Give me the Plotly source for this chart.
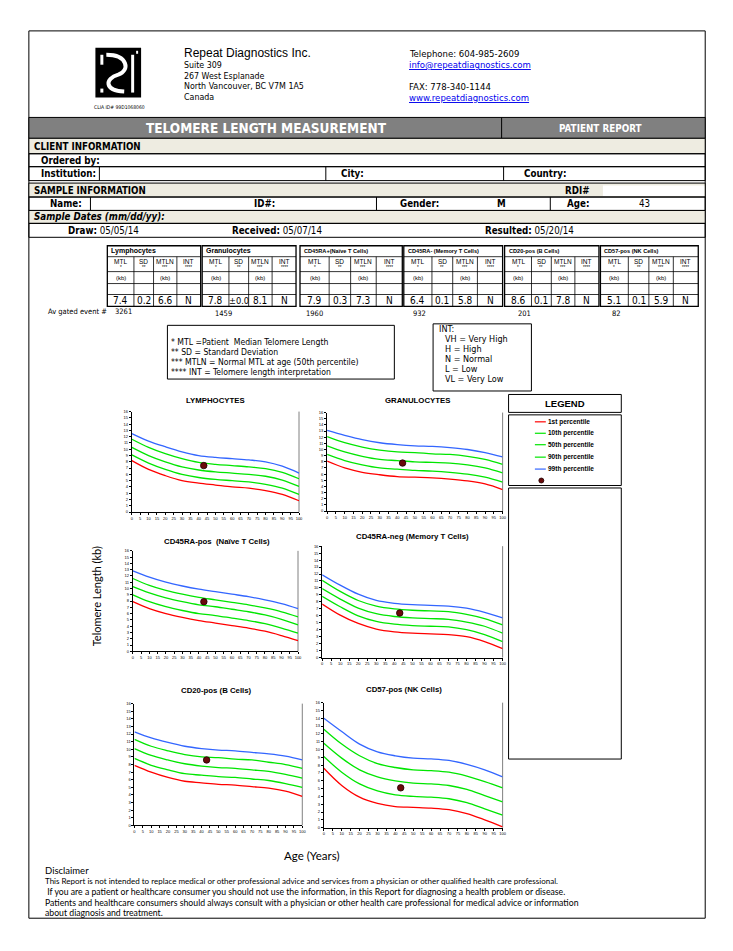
import plotly.graph_objects as go

W, H = 733, 951
OFF = 8  # default page body margin
COND = "DejaVu Sans Condensed, Liberation Sans Narrow, sans-serif"
ARIAL = "Liberation Sans, Arial, sans-serif"
CALI = "Lato, Carlito, Calibri, sans-serif"

# ---------------- data ----------------
ages = [0, 10, 20, 30, 40, 50, 60, 70, 80, 90, 100]
percentile_names = ["1st percentile", "10th percentile", "50th percentile", "90th percentile", "99th percentile"]

lymph_p1 = [8.2, 6.8, 5.8, 5.0, 4.6, 4.3, 4.0, 3.8, 3.4, 2.8, 1.8]
lymph_p10 = [9.1, 7.8, 6.8, 6.0, 5.5, 5.2, 5.0, 4.8, 4.4, 3.8, 2.8]
lymph_p50 = [10.3, 9.0, 8.0, 7.2, 6.7, 6.4, 6.2, 6.0, 5.7, 5.1, 4.1]
lymph_p90 = [11.6, 10.3, 9.3, 8.5, 7.9, 7.6, 7.4, 7.2, 6.9, 6.3, 5.3]
lymph_p99 = [12.5, 11.3, 10.4, 9.6, 9.0, 8.7, 8.5, 8.3, 8.0, 7.3, 6.2]

gran_p1 = [8.1, 7.0, 6.3, 5.9, 5.6, 5.5, 5.4, 5.2, 4.9, 4.4, 3.5]
gran_p10 = [9.2, 8.2, 7.5, 7.0, 6.8, 6.6, 6.5, 6.3, 6.0, 5.5, 4.7]
gran_p50 = [10.6, 9.6, 8.9, 8.4, 8.2, 8.0, 7.9, 7.8, 7.5, 7.0, 6.2]
gran_p90 = [12.1, 11.1, 10.4, 9.9, 9.6, 9.5, 9.3, 9.2, 8.9, 8.4, 7.6]
gran_p99 = [13.1, 12.3, 11.6, 11.1, 10.8, 10.6, 10.5, 10.3, 10.0, 9.5, 8.8]

naive_p1 = [7.9, 6.8, 6.0, 5.4, 4.9, 4.5, 4.1, 3.7, 3.2, 2.5, 1.7]
naive_p10 = [9.0, 7.9, 7.1, 6.5, 6.0, 5.7, 5.3, 4.9, 4.4, 3.7, 2.9]
naive_p50 = [10.3, 9.3, 8.5, 7.9, 7.4, 7.1, 6.7, 6.3, 5.8, 5.1, 4.2]
naive_p90 = [11.6, 10.5, 9.7, 9.1, 8.6, 8.2, 7.8, 7.4, 6.9, 6.3, 5.5]
naive_p99 = [12.8, 11.8, 11.0, 10.4, 9.9, 9.5, 9.1, 8.7, 8.2, 7.6, 6.8]

memory_p1 = [7.7, 6.1, 4.9, 4.1, 3.7, 3.5, 3.4, 3.3, 3.0, 2.3, 1.3]
memory_p10 = [8.8, 7.3, 6.0, 5.2, 4.8, 4.6, 4.5, 4.4, 4.0, 3.3, 2.3]
memory_p50 = [9.9, 8.4, 7.1, 6.3, 5.9, 5.7, 5.6, 5.5, 5.1, 4.5, 3.5]
memory_p90 = [11.1, 9.5, 8.2, 7.4, 7.0, 6.8, 6.7, 6.6, 6.2, 5.6, 4.7]
memory_p99 = [11.9, 10.4, 9.1, 8.2, 7.8, 7.6, 7.5, 7.4, 7.1, 6.5, 5.7]

bcell_p1 = [7.9, 7.0, 6.3, 5.8, 5.6, 5.4, 5.3, 5.1, 4.9, 4.5, 3.8]
bcell_p10 = [8.8, 7.9, 7.3, 6.8, 6.6, 6.4, 6.3, 6.1, 5.9, 5.5, 5.0]
bcell_p50 = [10.1, 9.2, 8.6, 8.1, 7.8, 7.6, 7.5, 7.3, 7.1, 6.7, 6.2]
bcell_p90 = [11.3, 10.4, 9.8, 9.3, 9.0, 8.9, 8.7, 8.6, 8.3, 8.0, 7.5]
bcell_p99 = [12.3, 11.5, 10.9, 10.4, 10.1, 9.9, 9.8, 9.6, 9.4, 9.1, 8.6]

nk_p1 = [7.6, 5.4, 3.9, 3.1, 2.7, 2.6, 2.5, 2.3, 1.8, 1.0, 0.1]
nk_p10 = [9.1, 7.1, 5.6, 4.7, 4.2, 4.0, 3.9, 3.7, 3.2, 2.4, 1.6]
nk_p50 = [10.8, 8.9, 7.4, 6.5, 6.0, 5.7, 5.6, 5.4, 4.9, 4.1, 3.3]
nk_p90 = [12.6, 10.7, 9.2, 8.2, 7.7, 7.4, 7.3, 7.1, 6.6, 5.9, 5.1]
nk_p99 = [14.0, 12.3, 10.7, 9.7, 9.2, 8.9, 8.8, 8.6, 8.1, 7.4, 6.5]

chart_titles = ["LYMPHOCYTES", "GRANULOCYTES", "CD45RA-pos  (Naïve T Cells)",
                "CD45RA-neg (Memory T Cells)", "CD20-pos (B Cells)", "CD57-pos (NK Cells)"]
table_titles = ["Lymphocytes", "Granulocytes", "CD45RA+(Naïve T Cells)",
                "CD45RA- (Memory T Cells)", "CD20-pos (B Cells)", "CD57-pos (NK Cells)"]
patient_age = 43
patient_mtl = [7.4, 7.8, 7.9, 6.4, 8.6, 5.1]
mtl_text = ["7.4", "7.8", "7.9", "6.4", "8.6", "5.1"]
sd_text = ["0.2", "±0.0", "0.3", "0.1", "0.1", "0.1"]
mtln_text = ["6.6", "8.1", "7.3", "5.8", "7.8", "5.9"]
int_text = ["N", "N", "N", "N", "N", "N"]
gated_events = ["3261", "1459", "1960", "932", "201", "82"]

curves = [
    [lymph_p1, lymph_p10, lymph_p50, lymph_p90, lymph_p99],
    [gran_p1, gran_p10, gran_p50, gran_p90, gran_p99],
    [naive_p1, naive_p10, naive_p50, naive_p90, naive_p99],
    [memory_p1, memory_p10, memory_p50, memory_p90, memory_p99],
    [bcell_p1, bcell_p10, bcell_p50, bcell_p90, bcell_p99],
    [nk_p1, nk_p10, nk_p50, nk_p90, nk_p99],
]
curve_colors = ["#FF0000", "#00E600", "#00E600", "#00E600", "#3366FF"]

# ---------------- layout helpers ----------------
shapes, annotations = [], []


def fx(x):
    return (x - OFF) / W


def fy(y):
    return 1 - (y - OFF) / H


def R(x0, y0, x1, y1, fill=None, lc="black", lw=1):
    shapes.append(dict(type="rect", xref="paper", yref="paper", x0=fx(x0), x1=fx(x1),
                       y0=fy(y0), y1=fy(y1), fillcolor=fill if fill else "rgba(0,0,0,0)",
                       line=dict(color=lc, width=lw), layer="below"))


def L(x0, y0, x1, y1, lw=1, color="black"):
    shapes.append(dict(type="line", xref="paper", yref="paper", x0=fx(x0), x1=fx(x1),
                       y0=fy(y0), y1=fy(y1), line=dict(color=color, width=lw), layer="below"))


def T(x, y, s, size=9, bold=False, italic=False, color="black", anchor="left", family=COND, angle=0):
    if italic:
        s = f"<i>{s}</i>"
    if bold:
        s = f"<b>{s}</b>"
    annotations.append(dict(x=fx(x), y=fy(y), xref="paper", yref="paper", text=s, showarrow=False,
                            xanchor=anchor, yanchor="middle", textangle=angle,
                            font=dict(size=size, color=color, family=family)))


BEIGE = "#EEECE1"
LEFT, RIGHT = 28, 709

# page frame
L(LEFT, 28, RIGHT, 28)
L(LEFT, 28, LEFT, 920)
L(RIGHT, 28, RIGHT, 920)
L(LEFT, 920, RIGHT, 920)

# logo
R(95, 45, 141, 95, fill="black", lc="black", lw=0)
shapes.append(dict(type="path", xref="paper", yref="paper",
                   path=f"M {fx(106)},{fy(52)} C {fx(128)},{fy(52)} {fx(130)},{fy(68)} {fx(118)},{fy(72)} "
                        f"C {fx(104)},{fy(76)} {fx(104)},{fy(88)} {fx(124)},{fy(89)}",
                   line=dict(color="white", width=4), layer="below"))
R(131, 52, 134, 90, fill="white", lc="white", lw=0)
R(100, 52, 103, 62, fill="white", lc="white", lw=0)
R(100, 86, 103, 90, fill="white", lc="white", lw=0)
R(136, 48, 138, 51, fill="white", lc="white", lw=0)
T(92, 105, "CLIA ID# 99D1068060", size=5, family=COND)

T(182, 50, "Repeat Diagnostics Inc.", size=12, family=ARIAL)
T(182, 62, "Suite 309", size=8.8, family=COND)
T(182, 73, "267 West Esplanade", size=8.8, family=COND)
T(182, 83.5, "North Vancouver, BC V7M 1A5", size=8.8, family=COND)
T(182, 94, "Canada", size=8.8, family=COND)
T(409, 50.5, "Telephone: 604-985-2609", size=9.5, family=COND)
T(409, 62, "<u>info@repeatdiagnostics.com</u>", size=9.5, color="#0000EE", family=COND)
T(409, 83.5, "FAX: 778-340-1144", size=9.5, family=COND)
T(409, 94.5, "<u>www.repeatdiagnostics.com</u>", size=9.5, color="#0000EE", family=COND)

# title bar
R(LEFT, 115, RIGHT, 136, fill="#808080", lc="black", lw=1)
L(504, 115, 504, 136)
T(267, 126, "TELOMERE LENGTH MEASUREMENT", size=13.5, bold=True, color="white", anchor="center")
T(604, 126, "PATIENT REPORT", size=9.8, bold=True, color="white", anchor="center")

# client information
R(LEFT, 136, RIGHT, 151.5, fill=BEIGE, lc="black", lw=1)
T(31, 144, "CLIENT INFORMATION", size=9.7, bold=True)
R(LEFT, 151.5, RIGHT, 164.5, lw=1)
T(38, 158, "Ordered by:", size=9.7, bold=True)
R(LEFT, 164.5, RIGHT, 178.5, lw=1)
L(99, 164.5, 99, 178.5)
L(327, 164.5, 327, 178.5)
L(506, 164.5, 506, 178.5)
T(38, 171.5, "Institution:", size=9.7, bold=True)
T(340, 171.5, "City:", size=9.7, bold=True)
T(525, 171.5, "Country:", size=9.7, bold=True)

# sample information
R(LEFT, 181, RIGHT, 195, fill=BEIGE, lc="black", lw=1)
R(606, 183.5, RIGHT - 1, 194, fill="white", lc="white", lw=0)
T(31, 188.5, "SAMPLE INFORMATION", size=9.7, bold=True)
T(566, 188, "RDI#", size=9.7, bold=True)
R(LEFT, 195, RIGHT, 208.5, lw=1)
L(90, 195, 90, 208.5)
L(378, 195, 378, 208.5)
L(553, 195, 553, 208.5)
T(47, 202, "Name:", size=9.7, bold=True)
T(253, 202, "ID#:", size=9.7, bold=True)
T(400, 202, "Gender:", size=9.7, bold=True)
T(497, 202, "M", size=9.7, bold=True)
T(568, 202, "Age:", size=9.7, bold=True)
T(640, 202, "43", size=9.7)
R(LEFT, 208.5, RIGHT, 221.5, fill=BEIGE, lc="black", lw=1)
T(31, 215, "Sample Dates (mm/dd/yy):", size=9.7, bold=True, italic=True)
R(LEFT, 221.5, RIGHT, 235.5, lw=1)
T(65, 228.5, "<b>Draw:</b> 05/05/14", size=9.7)
T(231, 228.5, "<b>Received:</b> 05/07/14", size=9.7)
T(485, 228.5, "<b>Resulted:</b> 05/20/14", size=9.7)

# results table
panels = [(107, 201), (202.5, 297), (301, 404), (405.5, 505), (507, 602), (603.5, 702)]
col_frac = [0.0, 0.285, 0.495, 0.745, 1.0]
row_y = [244, 255, 282, 293, 305]
head_labels = [("MTL", "*"), ("SD", "**"), ("MTLN", "***"), ("INT", "****")]
for i, (a, b) in enumerate(panels):
    R(a, row_y[0], b, row_y[-1], lw=1.3)
    for yy in row_y[1:-1]:
        L(a, yy, b, yy, lw=0.8)
    L(a, 270, b, 270, lw=0.8)
    xs = [a + f * (b - a) for f in col_frac]
    for xx in xs[1:-1]:
        L(xx, row_y[1], xx, row_y[-1], lw=0.8)
    tsize = 7 if i < 2 else 5.6
    T(a + 2, 249.5, table_titles[i], size=tsize, bold=True, family=ARIAL)
    vals = [mtl_text[i], sd_text[i], mtln_text[i], int_text[i]]
    for c in range(4):
        cx = (xs[c] + xs[c + 1]) / 2
        T(cx, 259.5, head_labels[c][0], size=6.5, anchor="center", family=ARIAL)
        T(cx, 265.5, head_labels[c][1], size=4.5, anchor="center", family=ARIAL)
        if c in (0, 2):
            T(cx, 276.5, "(kb)", size=6, anchor="center", family=ARIAL)
        vsize = 9.2 if len(vals[c]) > 3 else 10
        T(cx, 299, vals[c], size=vsize, anchor="center", family=COND)

T(45, 310, "Av gated event #", size=7.5, family=COND)
event_x = [113, 213, 305, 413, 518, 613]
event_y = [310, 312, 312, 312, 312, 312]
for ex, ey, ev in zip(event_x, event_y, gated_events):
    T(ex, ey, ev, size=7.5, family=COND)

# footnote boxes
R(167.5, 324, 396, 378, lw=1)
T(169, 340.5, "* MTL =Patient  Median Telomere Length", size=8.6, family=COND)
T(169, 350.5, "** SD = Standard Deviation", size=8.6, family=COND)
T(169, 361, "*** MTLN = Normal MTL at age (50th percentile)", size=8.6, family=COND)
T(169, 371, "**** INT = Telomere length interpretation", size=8.6, family=COND)
R(435, 322.5, 534, 390, lw=1)
T(439, 328, "INT:", size=9, family=COND)
T(445, 338, "VH = Very High", size=9, family=COND)
T(445, 348, "H = High", size=9, family=COND)
T(445, 358, "N = Normal", size=9, family=COND)
T(445, 368, "L = Low", size=9, family=COND)
T(445, 378, "VL = Very Low", size=9, family=COND)

# legend boxes
R(511, 393.5, 624.5, 411.5, lw=1)
T(568, 402.5, "LEGEND", size=9.5, bold=True, anchor="center", family=ARIAL)
R(511, 414, 624.5, 485, lw=1)
leg_y = [421, 432.5, 444, 456.5, 468.5]
for ly, col, name in zip(leg_y, curve_colors, percentile_names):
    L(537.5, ly, 548.5, ly, lw=1.2, color=col)
    T(549, ly, name, size=6.5, bold=True, family=ARIAL)
R(511, 487.5, 624.5, 760, lw=1)

# ---------------- charts ----------------
boxes = [(131.7, 410.7, 300, 511.7), (328.3, 411.7, 505, 510.7),
         (132.7, 550.7, 299, 651.7), (323.3, 546, 505, 658),
         (134.3, 704.3, 303.3, 826.7), (325, 703.3, 505, 829)]
title_pos = [(215.7, 400), (419, 400), (217, 541.7), (414.7, 536), (216.7, 691), (405.7, 690)]

fig = go.Figure()
layout_axes = {}
for k in range(6):
    xa = "x" if k == 0 else f"x{k + 1}"
    ya = "y" if k == 0 else f"y{k + 1}"
    for p in range(5):
        fig.add_trace(go.Scatter(x=ages, y=curves[k][p], mode="lines",
                                 line=dict(color=curve_colors[p], width=1.3, shape="spline", smoothing=1.0),
                                 xaxis=xa, yaxis=ya, showlegend=False, hoverinfo="skip"))
    fig.add_trace(go.Scatter(x=[patient_age], y=[patient_mtl[k]], mode="markers",
                             marker=dict(size=6.5, color="#6A0A0A", line=dict(color="#200000", width=0.8)),
                             xaxis=xa, yaxis=ya, showlegend=False))
    x0, y0, x1, y1 = boxes[k]
    axis_common = dict(showgrid=False, zeroline=False, showline=True, linecolor="black", linewidth=1,
                       ticks="outside", ticklen=2, tickwidth=0.6, tickcolor="black", tickangle=0,
                       tickfont=dict(size=4, family=ARIAL, color="black"), fixedrange=True)
    layout_axes["xaxis" if k == 0 else f"xaxis{k + 1}"] = dict(
        domain=[fx(x0), fx(x1)], range=[0, 100], tickmode="array", tickvals=list(range(0, 101, 5)),
        anchor=ya, **axis_common)
    layout_axes["yaxis" if k == 0 else f"yaxis{k + 1}"] = dict(
        domain=[fy(y1), fy(y0)], range=[0, 16], tickmode="array", tickvals=list(range(0, 17)),
        anchor=xa, **axis_common)
    L(x1, y0, x1, y1, lw=1, color="#808080")
    tx, ty = title_pos[k]
    T(tx, ty, chart_titles[k], size=7.8, bold=True, anchor="center", family=ARIAL)

# legend marker sample (overlay axis in page pixel units)
fig.add_trace(go.Scatter(x=[544], y=[480], mode="markers", xaxis="x7", yaxis="y7",
                         marker=dict(size=5, color="#6A0A0A", line=dict(color="#200000", width=0.8)),
                         showlegend=False, hoverinfo="skip"))
layout_axes["xaxis7"] = dict(domain=[0, 1], range=[OFF, W + OFF], visible=False, fixedrange=True, anchor="y7")
layout_axes["yaxis7"] = dict(domain=[0, 1], range=[H + OFF, OFF], visible=False, fixedrange=True, anchor="x7")

T(97, 596, "Telomere Length (kb)", size=11, family=CALI, angle=-90, anchor="center")
T(313, 857, "Age (Years)", size=11.5, family=CALI, anchor="center")

T(42, 872, "Disclaimer", size=9.5, family=CALI)
T(42, 883, "This Report is not intended to replace medical or other professional advice and services from a physician or other qualified health care professional.", size=8, family=CALI)
T(42, 893.5, " If you are a patient or healthcare consumer you should not use the information, in this Report for diagnosing a health problem or disease.", size=8.7, family=CALI)
T(42, 904, "Patients and healthcare consumers should always consult with a physician or other health care professional for medical advice or information", size=8.7, family=CALI)
T(42, 914, "about diagnosis and treatment.", size=8.7, family=CALI)

fig.update_layout(width=W, height=H, margin=dict(l=0, r=0, t=0, b=0),
                  paper_bgcolor="white", plot_bgcolor="rgba(0,0,0,0)",
                  shapes=shapes, annotations=annotations, showlegend=False, **layout_axes)
fig.write_html("out.html")
